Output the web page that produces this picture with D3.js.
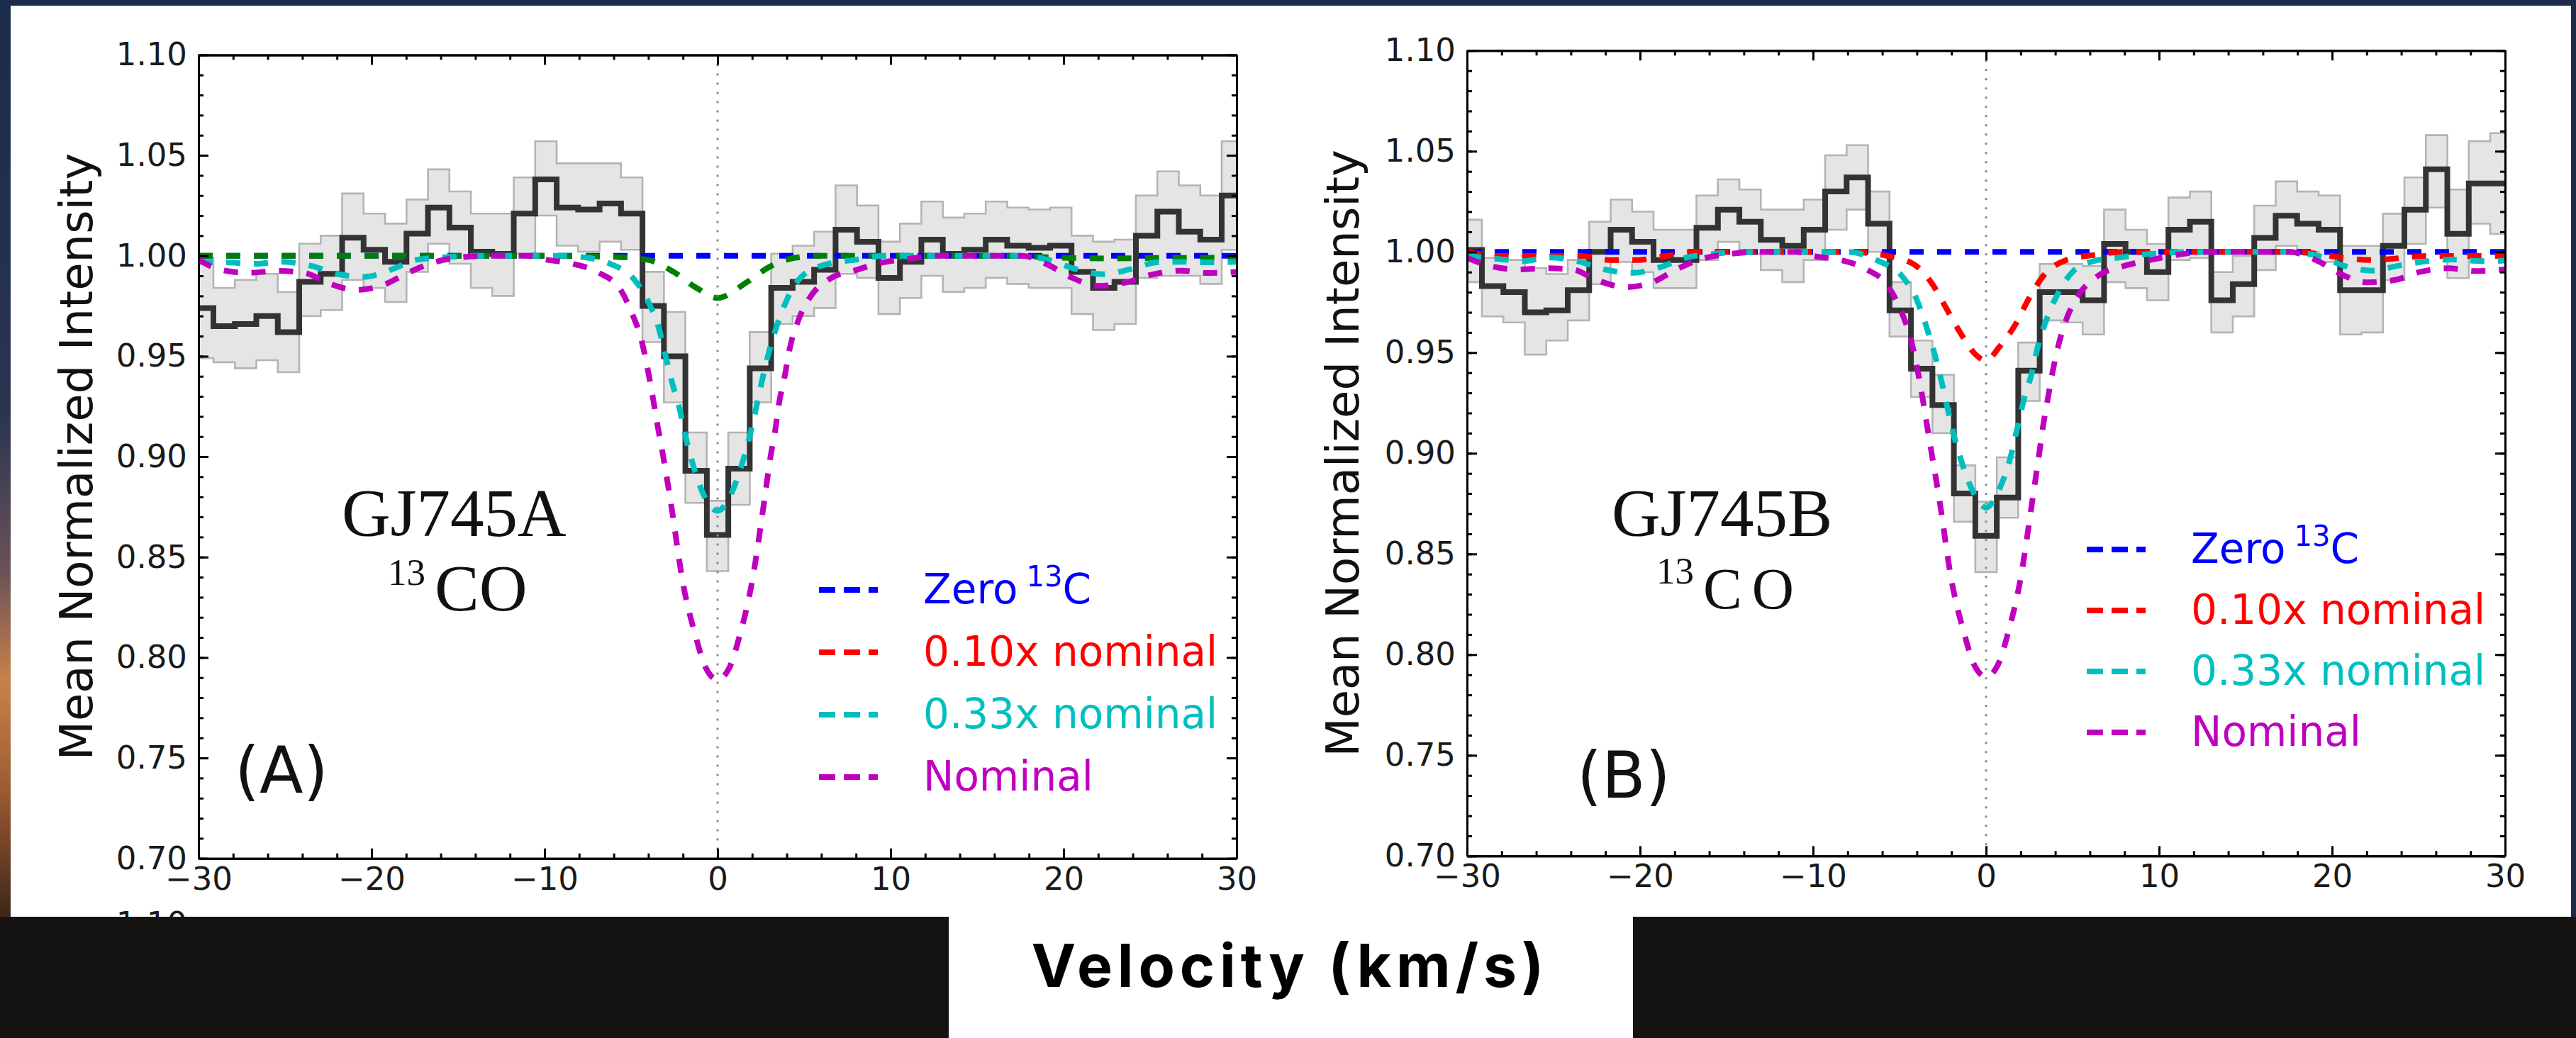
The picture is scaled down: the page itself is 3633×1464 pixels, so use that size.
<!DOCTYPE html>
<html>
<head>
<meta charset="utf-8">
<script src="https://cdn.jsdelivr.net/npm/d3@7"></script>
<style>
  html, body { margin: 0; padding: 0; background: #1c2b47; overflow: hidden; }
  svg { display: block; }
</style>
</head>
<body>
<svg id="chart" width="3633" height="1464"></svg>
<script>
// ---- Velocity bins (km/s), bin centres of the binned spectrum ----
const velocity = [-29.76, -28.52, -27.28, -26.04, -24.80, -23.56, -22.32, -21.08, -19.84, -18.60,
  -17.36, -16.12, -14.88, -13.64, -12.40, -11.16, -9.92, -8.68, -7.44, -6.20, -4.96, -3.72, -2.48,
  -1.24, 0, 1.24, 2.48, 3.72, 4.96, 6.20, 7.44, 8.68, 9.92, 11.16, 12.40, 13.64, 14.88, 16.12,
  17.36, 18.60, 19.84, 21.08, 22.32, 23.56, 24.80, 26.04, 27.28, 28.52, 29.76];

// ---- GJ745A: mean normalized intensity and its uncertainty envelope ----
const fluxA = [0.974, 0.965, 0.966, 0.970, 0.962, 0.987, 0.991, 1.009, 1.003, 0.997, 1.011, 1.024,
  1.014, 1.002, 1.001, 1.021, 1.038, 1.024, 1.023, 1.026, 1.021, 0.975, 0.950, 0.893, 0.861, 0.894,
  0.944, 0.984, 0.987, 0.993, 1.013, 1.007, 0.989, 0.997, 1.008, 1.001, 1.003, 1.008, 1.005, 1.004,
  1.005, 0.992, 0.984, 0.987, 1.010, 1.022, 1.012, 1.008, 1.030];
const upperA = [0.999, 0.984, 0.988, 0.991, 0.982, 1.006, 1.010, 1.031, 1.021, 1.016, 1.028, 1.043,
  1.032, 1.021, 1.021, 1.039, 1.057, 1.046, 1.046, 1.046, 1.039, 0.992, 0.972, 0.912, 0.878, 0.912,
  0.962, 1.001, 1.005, 1.012, 1.035, 1.025, 1.007, 1.016, 1.027, 1.019, 1.021, 1.027, 1.024, 1.023,
  1.024, 1.010, 1.007, 1.008, 1.030, 1.042, 1.035, 1.030, 1.057];
const lowerA = [0.949, 0.947, 0.944, 0.948, 0.942, 0.970, 0.973, 0.988, 0.984, 0.977, 0.992, 1.006,
  0.996, 0.984, 0.980, 1.001, 1.020, 1.005, 1.002, 1.007, 1.003, 0.957, 0.927, 0.877, 0.843, 0.876,
  0.927, 0.966, 0.970, 0.974, 0.991, 0.989, 0.971, 0.979, 0.990, 0.982, 0.984, 0.989, 0.986, 0.984,
  0.984, 0.971, 0.963, 0.966, 0.989, 0.990, 0.990, 0.986, 1.003];

// ---- GJ745B ----
const fluxB = [1.001, 0.983, 0.980, 0.970, 0.971, 0.981, 1.000, 1.011, 1.005, 0.996, 0.996, 1.012,
  1.021, 1.015, 1.006, 1.003, 1.011, 1.030, 1.037, 1.014, 0.971, 0.942, 0.924, 0.880, 0.859, 0.878,
  0.941, 0.980, 0.980, 0.976, 1.004, 1.000, 0.990, 1.011, 1.015, 0.976, 0.984, 1.007, 1.018, 1.014,
  1.011, 0.981, 0.981, 1.003, 1.021, 1.041, 1.009, 1.034, 1.034];
const upperB = [1.016, 0.997, 0.996, 0.992, 0.989, 0.996, 1.015, 1.026, 1.020, 1.011, 1.011, 1.028,
  1.036, 1.031, 1.021, 1.021, 1.026, 1.048, 1.053, 1.030, 0.985, 0.956, 0.939, 0.894, 0.876, 0.898,
  0.955, 0.994, 0.994, 0.993, 1.021, 1.011, 1.004, 1.027, 1.030, 0.990, 0.998, 1.023, 1.035, 1.030,
  1.028, 1.003, 1.003, 1.019, 1.037, 1.058, 1.031, 1.055, 1.059];
const lowerB = [0.985, 0.968, 0.965, 0.949, 0.956, 0.966, 0.984, 0.995, 0.990, 0.982, 0.982, 0.996,
  1.005, 0.999, 0.991, 0.985, 0.996, 1.011, 1.021, 1.000, 0.958, 0.928, 0.910, 0.866, 0.841, 0.868,
  0.926, 0.966, 0.965, 0.959, 0.985, 0.982, 0.976, 0.996, 0.997, 0.960, 0.968, 0.991, 1.003, 1.000,
  0.995, 0.959, 0.960, 0.986, 1.004, 1.022, 0.987, 1.014, 1.009];

// ---- Model spectra, [velocity, intensity] samples ----
const zeroA = [[-30, 1.0], [30, 1.0]];
const tenthA = [[-30, 1.0], [-10, 1.0], [-6, 0.9995], [-4.05, 0.998], [-2.55, 0.992], [-1.22, 0.984],
  [0, 0.979], [1.67, 0.9867], [2.98, 0.9944], [4.5, 0.999], [6, 1.0], [17, 1.0], [19, 0.9993],
  [21, 0.9988], [23, 0.9987], [25, 0.9989], [30, 0.999]];
const thirdA = [[-30, 0.997], [-28.4, 0.9967], [-26.7, 0.996], [-25.2, 0.997], [-23.5, 0.995],
  [-22.0, 0.991], [-20.4, 0.9895], [-18.9, 0.993], [-17.4, 0.998], [-15.7, 0.9993], [-14, 1.0],
  [-9, 1.0], [-7.5, 0.999], [-6.2, 0.996], [-4.8, 0.988], [-4.0, 0.977], [-3.4, 0.964], [-3.0, 0.950],
  [-2.6, 0.936], [-2.2, 0.924], [-1.85, 0.910], [-1.35, 0.894], [-0.75, 0.880], [0, 0.873],
  [0.7, 0.880], [1.4, 0.896], [1.85, 0.910], [2.25, 0.925], [2.6, 0.939], [3.0, 0.953], [3.5, 0.967],
  [4.0, 0.978], [4.9, 0.990], [6.4, 0.996], [8.0, 0.998], [9.6, 1.0], [12.7, 1.0], [17.5, 1.0],
  [19.1, 0.998], [20.7, 0.9934], [22.25, 0.9908], [23.9, 0.9934], [25.4, 0.9967], [27.0, 0.997],
  [28.6, 0.9967], [30, 0.997]];
const nominalA = [[-30, 0.998], [-28.7, 0.993], [-27.1, 0.9915], [-25.5, 0.9925], [-23.9, 0.9915],
  [-22.4, 0.986], [-20.9, 0.983], [-19.3, 0.9855], [-17.9, 0.9915], [-16.4, 0.9967], [-14.8, 0.9993],
  [-13, 1.0], [-11, 1.0], [-9.85, 0.998], [-8.35, 0.996], [-6.85, 0.9915], [-5.6, 0.983],
  [-4.93, 0.971], [-4.4, 0.958], [-4.05, 0.944], [-3.77, 0.931], [-3.5, 0.917], [-3.22, 0.904],
  [-2.7, 0.877], [-2.0, 0.837], [-1.28, 0.811], [-0.66, 0.7945], [0, 0.789], [0.66, 0.7945],
  [1.28, 0.811], [2.0, 0.838], [2.7, 0.878], [3.06, 0.900], [3.33, 0.913], [3.54, 0.926],
  [3.88, 0.940], [4.15, 0.953], [4.63, 0.967], [5.32, 0.979], [6.48, 0.9885], [8.05, 0.993],
  [9.55, 0.9967], [11.05, 0.9985], [12.7, 1.0], [17.6, 1.0], [19.1, 0.9955], [20.5, 0.989],
  [22.0, 0.985], [23.6, 0.9867], [25.1, 0.9906], [26.8, 0.9926], [28.3, 0.9914], [30, 0.992]];

const zeroB = [[-30, 1.0], [30, 1.0]];
const tenthB = [[-30, 1.0], [-28.2, 0.998], [-26.6, 0.998], [-25, 0.998], [-23.4, 0.998],
  [-21.8, 0.996], [-20.1, 0.996], [-18.5, 0.998], [-16.9, 1.0], [-8, 1.0], [-5.7, 0.998],
  [-4.2, 0.994], [-3.1, 0.984], [-2.3, 0.972], [-1.5, 0.960], [-0.6, 0.949], [0, 0.946],
  [0.75, 0.9526], [1.7, 0.964], [2.46, 0.9766], [3.3, 0.988], [4.65, 0.996], [6.2, 0.9984],
  [8, 1.0], [17.5, 1.0], [19.2, 0.999], [20.7, 0.997], [22.3, 0.996], [24.0, 0.997], [25.5, 0.998],
  [27.2, 0.998], [28.8, 0.998], [30, 0.998]];
const thirdB = [[-30, 0.998], [-28.3, 0.9966], [-26.8, 0.9954], [-25.2, 0.9972], [-23.6, 0.9954],
  [-22.05, 0.9913], [-20.4, 0.9896], [-18.8, 0.9925], [-17.3, 0.9972], [-15.8, 0.999], [-14, 1.0],
  [-8, 1.0], [-6.2, 0.9954], [-4.9, 0.9884], [-4.0, 0.9761], [-3.48, 0.9637], [-3.0, 0.9502],
  [-2.6, 0.9367], [-2.25, 0.9232], [-1.9, 0.9103], [-1.35, 0.894], [-0.7, 0.880], [0, 0.873],
  [0.7, 0.881], [1.43, 0.8986], [1.78, 0.9115], [2.19, 0.9268], [2.6, 0.9385], [3.0, 0.9532],
  [3.48, 0.9661], [4.1, 0.9784], [5.0, 0.9901], [6.2, 0.9954], [7.7, 0.9972], [9.5, 0.999],
  [12, 1.0], [17.5, 1.0], [19.2, 0.998], [20.7, 0.9931], [22.3, 0.9907], [23.8, 0.9931],
  [25.5, 0.9954], [27.0, 0.9962], [28.6, 0.9954], [30, 0.9957]];
const nominalB = [[-30, 0.997], [-28.7, 0.9931], [-27.1, 0.9913], [-25.5, 0.9919], [-23.9, 0.9913],
  [-22.5, 0.986], [-20.8, 0.9825], [-19.3, 0.9849], [-17.9, 0.9913], [-16.4, 0.9966], [-14.8, 0.999],
  [-13, 1.0], [-11, 1.0], [-9.9, 0.9978], [-8.4, 0.996], [-6.9, 0.9913], [-5.67, 0.9831],
  [-4.92, 0.9708], [-4.37, 0.9573], [-4.03, 0.9444], [-3.75, 0.9315], [-3.48, 0.9174],
  [-3.21, 0.9033], [-2.7, 0.877], [-2.0, 0.837], [-1.28, 0.811], [-0.66, 0.7945], [0, 0.789],
  [0.66, 0.7945], [1.28, 0.811], [2.0, 0.838], [2.7, 0.878], [3.07, 0.8998], [3.28, 0.9127],
  [3.55, 0.9262], [3.83, 0.9397], [4.17, 0.9532], [4.65, 0.9667], [5.33, 0.9784], [6.42, 0.9878],
  [8.0, 0.9931], [9.5, 0.996], [11, 0.9985], [12.7, 1.0], [17.5, 1.0], [19.2, 0.9954],
  [20.5, 0.989], [22.0, 0.9849], [23.6, 0.986], [25.1, 0.9901], [26.7, 0.9919], [28.3, 0.9905],
  [30, 0.9913]];

// ---- Axis ticks and text ----
const xMajorTicks = [-30, -20, -10, 0, 10, 20, 30];
const yMajorTicks = [0.70, 0.75, 0.80, 0.85, 0.90, 0.95, 1.00, 1.05, 1.10];
const legendLabels = ["Zero", "0.10x nominal", "0.33x nominal", "Nominal"];
const legendColors = ["#0000ff", "#ff0000", "#00bfbf", "#bf00bf"];
const yAxisTitle = "Mean Normalized Intensity";
const xAxisTitle = "Velocity (km/s)";

const svg = d3.select("#chart");

// ---- Slide backdrop ----
const defs = svg.append("defs");
const glow = defs.append("linearGradient").attr("id", "edgeGlow")
  .attr("x1", 0).attr("y1", 0).attr("x2", 0).attr("y2", 1);
[["0%", "#1b2b4a"], ["45%", "#2a3550"], ["62%", "#6b5258"], ["74%", "#c7824a"],
 ["86%", "#9a5a33"], ["100%", "#3a2418"]].forEach(([o, c]) =>
  glow.append("stop").attr("offset", o).attr("stop-color", c));

svg.append("rect").attr("width", 3633).attr("height", 1464).attr("fill", "#1c2b47");
svg.append("rect").attr("x", 0).attr("y", 0).attr("width", 16).attr("height", 1300)
  .attr("fill", "url(#edgeGlow)");
svg.append("rect").attr("x", 15).attr("y", 8).attr("width", 3611).attr("height", 1456)
  .attr("fill", "#ffffff");

// ---- Panels ----
const panels = [
  { left: 280, right: 1744, top: 77.4, bottom: 1210.7, flux: fluxA, upper: upperA, lower: lowerA,
    models: [[zeroA, "#0000ff"], [tenthA, "#008000"], [thirdA, "#00bfbf"], [nominalA, "#bf00bf"]],
    star: "GJ745A", tag: "(A)", titleX: 130, legendX: 1155, legendY: 851, legendStep: 88,
    starX: 482, starY: 756, isoX: 547, coX: 613, isoY: 825, coY: 861, coSize: 94, coSpacing: 0,
    tagX: 331, tagY: 1118 },
  { left: 2069, right: 3533, top: 71.3, bottom: 1207.3, flux: fluxB, upper: upperB, lower: lowerB,
    models: [[zeroB, "#0000ff"], [tenthB, "#ff0000"], [thirdB, "#00bfbf"], [nominalB, "#bf00bf"]],
    star: "GJ745B", tag: "(B)", titleX: 1916, legendX: 2943, legendY: 794, legendStep: 86,
    starX: 2273, starY: 756, isoX: 2336, coX: 2402, isoY: 823, coY: 858, coSize: 82, coSpacing: 14,
    tagX: 2224, tagY: 1125 }
];

panels.forEach((p, pi) => {
  const x = d3.scaleLinear().domain([-30, 30]).range([p.left, p.right]);
  const y = d3.scaleLinear().domain([0.70, 1.10]).range([p.bottom, p.top]);
  const g = svg.append("g");

  const clipId = "plotClip" + pi;
  defs.append("clipPath").attr("id", clipId).append("rect")
    .attr("x", p.left).attr("y", p.top).attr("width", p.right - p.left).attr("height", p.bottom - p.top);
  const plot = g.append("g").attr("clip-path", `url(#${clipId})`);

  // binned spectrum extended to the plot edges
  const rows = velocity.map((v, i) => ({ v, f: p.flux[i], hi: p.upper[i], lo: p.lower[i] }));
  const ext = [{ ...rows[0], v: -30 }, ...rows, { ...rows[rows.length - 1], v: 30 }];

  plot.append("path").datum(ext)
    .attr("d", d3.area().curve(d3.curveStep).x(d => x(d.v)).y0(d => y(d.lo)).y1(d => y(d.hi)))
    .attr("fill", "#e5e5e5");
  ["hi", "lo"].forEach(k => plot.append("path").datum(ext)
    .attr("d", d3.line().curve(d3.curveStep).x(d => x(d.v)).y(d => y(d[k])))
    .attr("fill", "none").attr("stroke", "#b4b4b4").attr("stroke-width", 2.6));

  plot.append("path").datum(ext)
    .attr("d", d3.line().curve(d3.curveStep).x(d => x(d.v)).y(d => y(d.f)))
    .attr("fill", "none").attr("stroke", "#333333").attr("stroke-width", 8)
    .attr("stroke-linejoin", "miter");

  // model spectra
  const modelLine = d3.line().curve(d3.curveMonotoneX).x(d => x(d[0])).y(d => y(d[1]));
  p.models.forEach(([pts, col]) => plot.append("path").datum(pts)
    .attr("d", modelLine).attr("fill", "none").attr("stroke", col)
    .attr("stroke-width", 8).attr("stroke-dasharray", "20,19"));

  // zero-velocity marker
  plot.append("line").attr("x1", x(0)).attr("x2", x(0)).attr("y1", p.top).attr("y2", p.bottom)
    .attr("stroke", "#8a8a8a").attr("stroke-width", 3).attr("stroke-dasharray", "3,10");

  // axes: ticks point inward on all four sides
  const fontAxis = "'DejaVu Sans', sans-serif";
  const style = sel => {
    sel.select(".domain").attr("stroke", "#000").attr("stroke-width", 3);
    sel.selectAll(".tick line").attr("stroke", "#000").attr("stroke-width", 3);
    sel.selectAll("text").attr("font-family", fontAxis).attr("font-size", 45).attr("fill", "#1a1a1a");
  };
  const xMinor = d3.range(-30, 30.01, 2);
  const yMinor = d3.range(0, 41).map(i => 0.70 + i * 0.01);

  g.append("g").attr("transform", `translate(0,${p.bottom})`)
    .call(d3.axisBottom(x).tickValues(xMinor).tickSize(-7).tickSizeOuter(0).tickFormat("")).call(style);
  g.append("g").attr("transform", `translate(0,${p.bottom})`)
    .call(d3.axisBottom(x).tickValues(xMajorTicks).tickSize(-14).tickSizeOuter(0).tickPadding(12)
      .tickFormat(d3.format("d"))).call(style);
  g.append("g").attr("transform", `translate(0,${p.top})`)
    .call(d3.axisTop(x).tickValues(xMinor).tickSize(-7).tickSizeOuter(0).tickFormat("")).call(style);
  g.append("g").attr("transform", `translate(0,${p.top})`)
    .call(d3.axisTop(x).tickValues(xMajorTicks).tickSize(-14).tickSizeOuter(0).tickFormat("")).call(style);

  g.append("g").attr("transform", `translate(${p.left},0)`)
    .call(d3.axisLeft(y).tickValues(yMinor).tickSize(-7).tickSizeOuter(0).tickFormat("")).call(style);
  g.append("g").attr("transform", `translate(${p.left},0)`)
    .call(d3.axisLeft(y).tickValues(yMajorTicks).tickSize(-14).tickSizeOuter(0).tickPadding(16)
      .tickFormat(d3.format(".2f"))).call(style);
  g.append("g").attr("transform", `translate(${p.right},0)`)
    .call(d3.axisRight(y).tickValues(yMinor).tickSize(-7).tickSizeOuter(0).tickFormat("")).call(style);
  g.append("g").attr("transform", `translate(${p.right},0)`)
    .call(d3.axisRight(y).tickValues(yMajorTicks).tickSize(-14).tickSizeOuter(0).tickFormat("")).call(style);

  // y-axis title
  g.append("text")
    .attr("transform", `translate(${p.titleX},${(p.top + p.bottom) / 2}) rotate(-90)`)
    .attr("text-anchor", "middle").attr("font-family", fontAxis).attr("font-size", 64)
    .attr("fill", "#111").text(yAxisTitle);

  // target annotation
  const serif = "'Liberation Serif', 'Times New Roman', serif";
  g.append("text").attr("x", p.starX).attr("y", p.starY).attr("font-family", serif)
    .attr("font-size", 95).attr("fill", "#111").text(p.star);
  g.append("text").attr("x", p.isoX).attr("y", p.isoY).attr("font-family", serif)
    .attr("font-size", 53).attr("fill", "#111").text("13");
  g.append("text").attr("x", p.coX).attr("y", p.coY).attr("font-family", serif)
    .attr("font-size", p.coSize).attr("letter-spacing", p.coSpacing).attr("fill", "#111").text("CO");

  g.append("text").attr("x", p.tagX).attr("y", p.tagY).attr("font-family", fontAxis)
    .attr("font-size", 90).attr("fill", "#111").text(p.tag);

  // legend
  legendLabels.forEach((lab, i) => {
    const by = p.legendY + i * p.legendStep;
    g.append("line").attr("x1", p.legendX).attr("x2", p.legendX + 83)
      .attr("y1", by - 19).attr("y2", by - 19)
      .attr("stroke", legendColors[i]).attr("stroke-width", 8).attr("stroke-dasharray", "23,12");
    const t = g.append("text").attr("x", p.legendX + 147).attr("y", by)
      .attr("font-family", fontAxis).attr("font-size", 58).attr("fill", legendColors[i]);
    t.append("tspan").text(lab);
    if (i === 0) {
      t.append("tspan").attr("dx", 12).attr("dy", -24).attr("font-size", 40).text("13");
      t.append("tspan").attr("dy", 24).text("C");
    }
  });
});

// a further panel's label that peeks out above the footer band
svg.append("text").attr("x", 264).attr("y", 1318).attr("text-anchor", "end")
  .attr("font-family", "'DejaVu Sans', sans-serif").attr("font-size", 45).attr("fill", "#1a1a1a")
  .text("1.10");

// ---- Footer: dark bands with the shared x-axis title between them ----
svg.append("rect").attr("x", 0).attr("y", 1293).attr("width", 1338).attr("height", 171).attr("fill", "#141312");
svg.append("rect").attr("x", 2303).attr("y", 1293).attr("width", 1330).attr("height", 171).attr("fill", "#141312");
svg.append("text").attr("x", 1816).attr("y", 1392).attr("text-anchor", "middle")
  .attr("font-family", "Inter, 'Open Sans', sans-serif").attr("font-weight", 700)
  .attr("font-size", 84).attr("fill", "#000")
  .attr("textLength", 723).attr("lengthAdjust", "spacing")
  .text(xAxisTitle);
</script>
</body>
</html>
